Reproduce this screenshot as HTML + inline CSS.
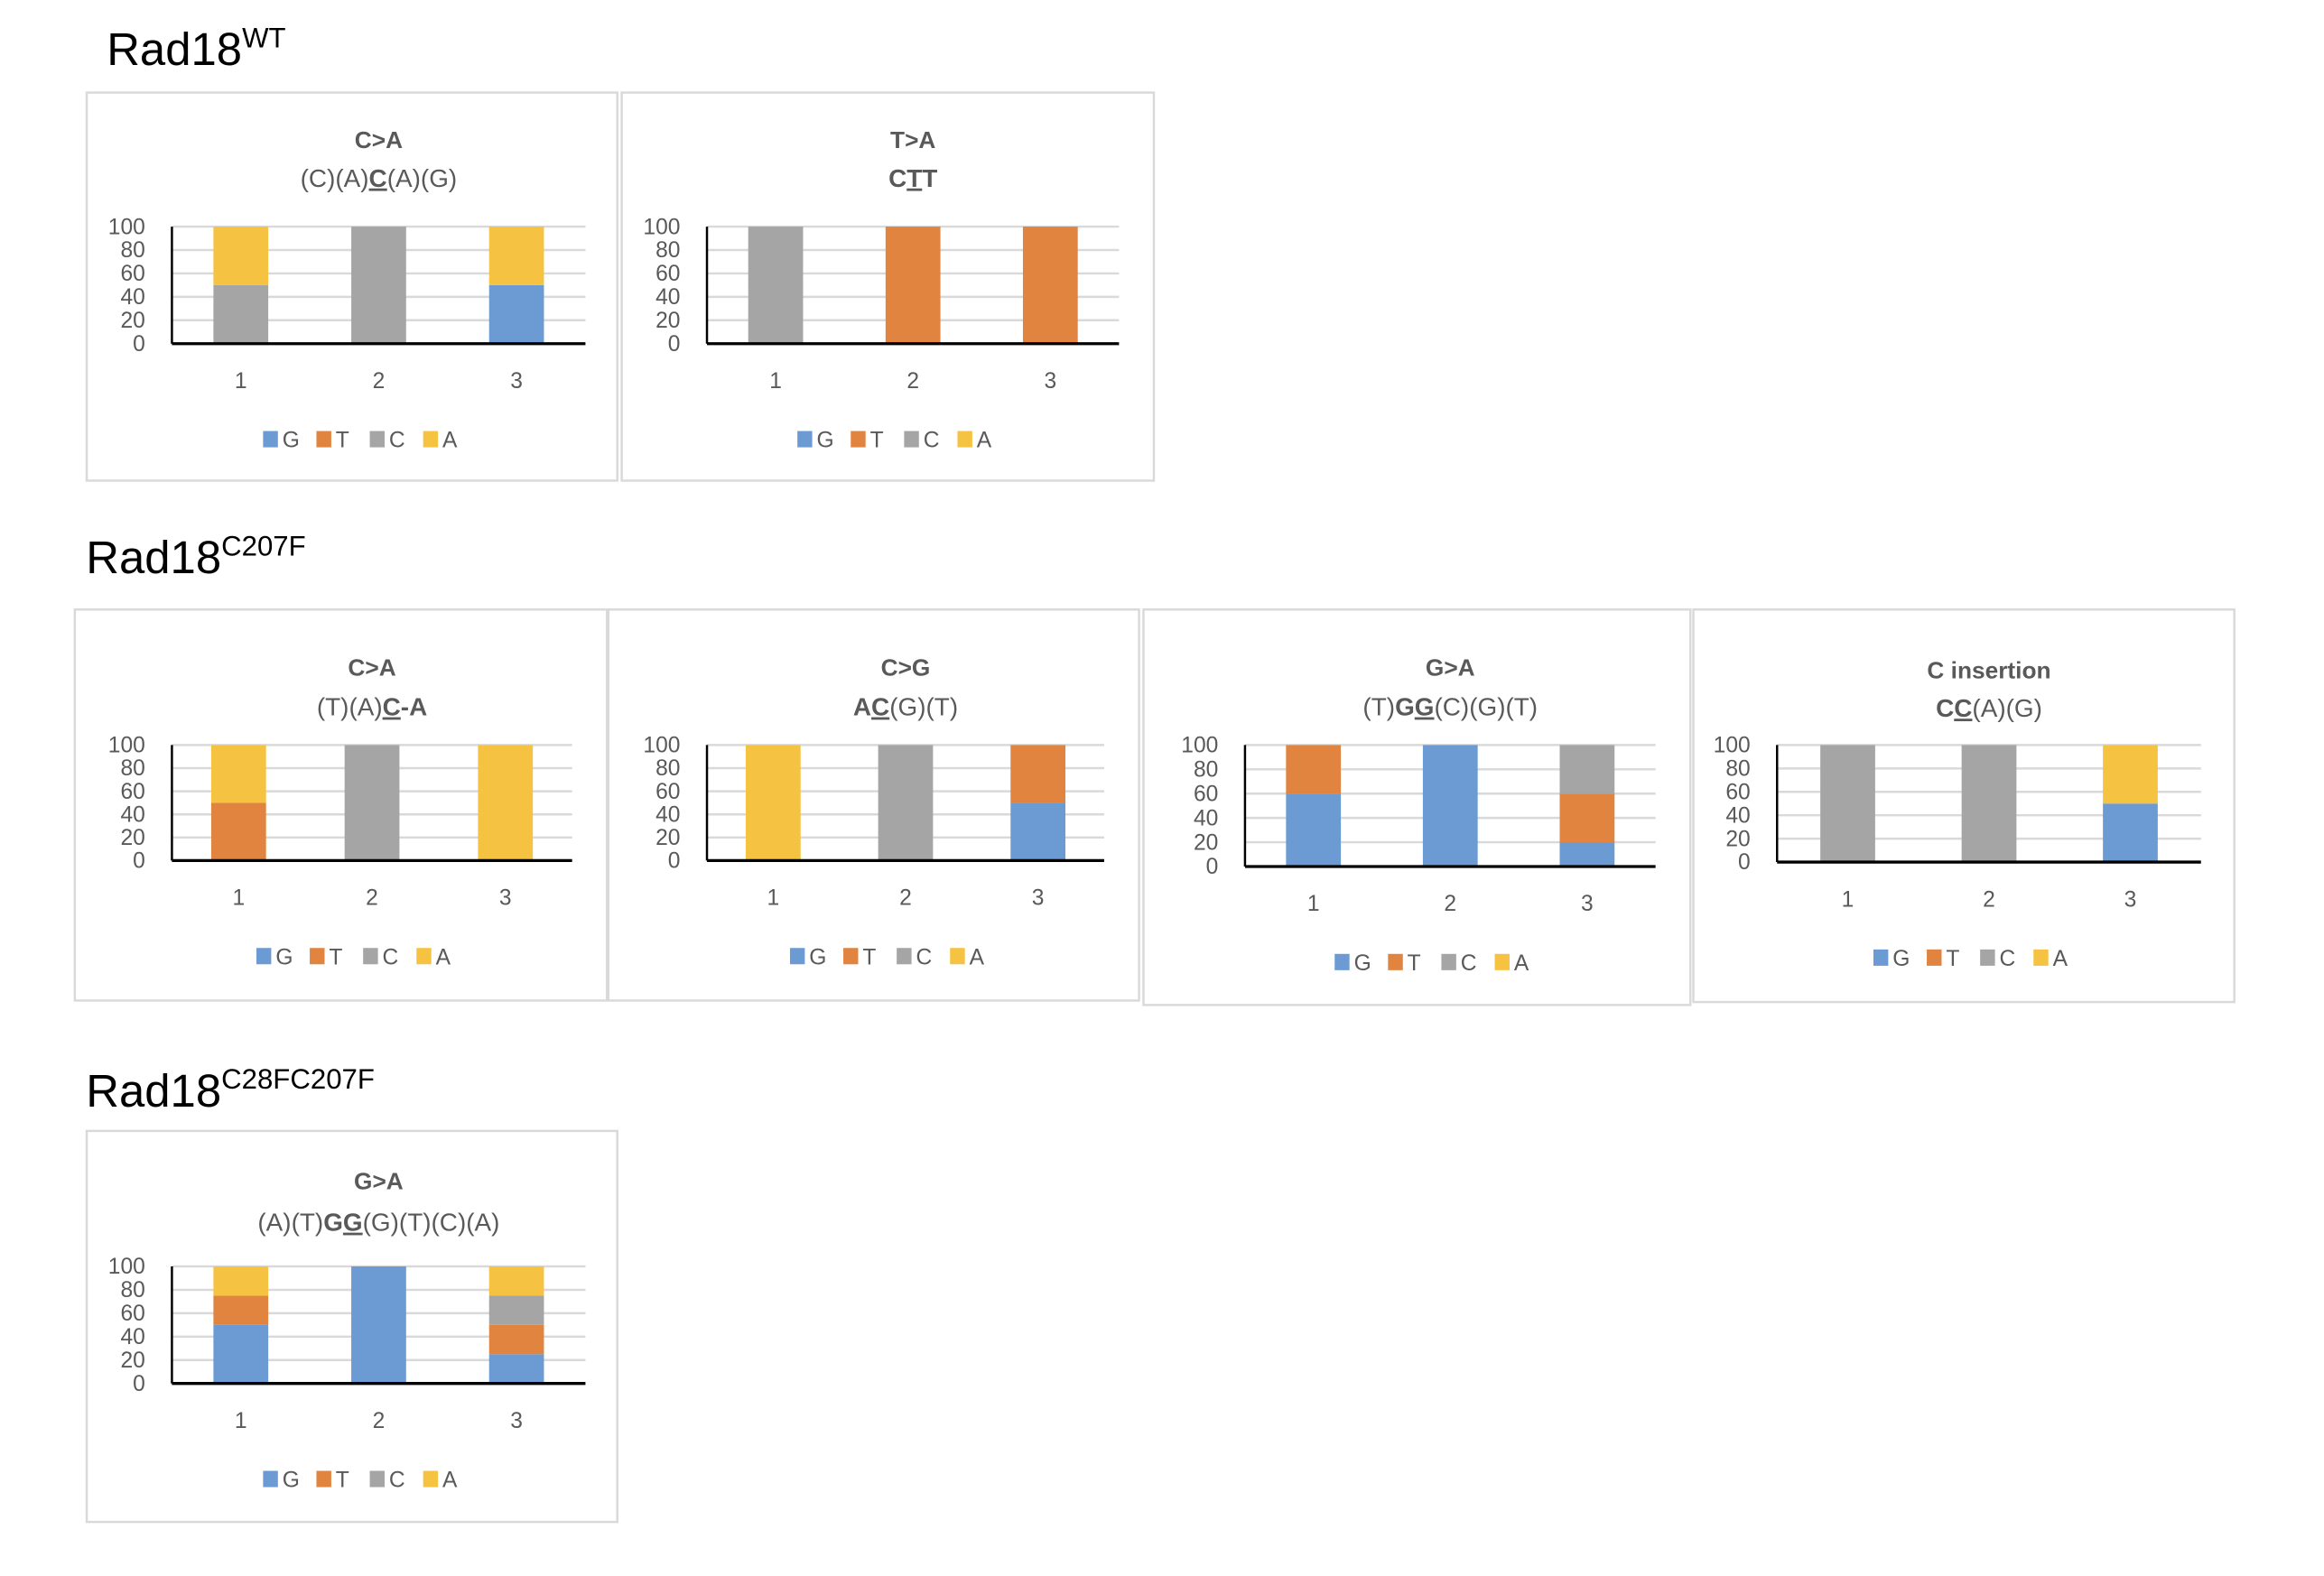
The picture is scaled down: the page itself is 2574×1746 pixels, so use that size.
<!DOCTYPE html>
<html><head><meta charset="utf-8"><style>
html,body{margin:0;padding:0;background:#fff;}
svg{display:block;font-family:"Liberation Sans",sans-serif;}
</style></head><body>
<svg id="fig" width="2574" height="1746" viewBox="0 0 1568 1064" preserveAspectRatio="none" xmlns="http://www.w3.org/2000/svg">
<text x="72" y="44" font-size="31" fill="#000">Rad18<tspan font-size="19" dy="-12">WT</tspan></text>
<text x="58" y="387" font-size="31" fill="#000">Rad18<tspan font-size="19" dy="-12">C207F</tspan></text>
<text x="58" y="747" font-size="31" fill="#000">Rad18<tspan font-size="19" dy="-12">C28FC207F</tspan></text>
</svg>
<script>
const categories = ["1","2","3"];
const seriesNames = ["G","T","C","A"];
const yTicks = [0,20,40,60,80,100];
// values per chart: [G],[T],[C],[A] for categories 1..3
const wtCA_G=[0,0,50], wtCA_T=[0,0,0], wtCA_C=[50,100,0], wtCA_A=[50,0,50];
const wtTA_G=[0,0,0], wtTA_T=[0,100,100], wtTA_C=[100,0,0], wtTA_A=[0,0,0];
const mCA_G=[0,0,0], mCA_T=[50,0,0], mCA_C=[0,100,0], mCA_A=[50,0,100];
const mCG_G=[0,0,50], mCG_T=[0,0,50], mCG_C=[0,100,0], mCG_A=[100,0,0];
const mGA_G=[60,100,20], mGA_T=[40,0,40], mGA_C=[0,0,40], mGA_A=[0,0,0];
const mCI_G=[0,0,50], mCI_T=[0,0,0], mCI_C=[100,100,0], mCI_A=[0,0,50];
const dGA_G=[50,100,25], dGA_T=[25,0,25], dGA_C=[0,0,25], dGA_A=[25,0,25];

const colors = {G:"#6b9bd2",T:"#e0843f",C:"#a5a5a5",A:"#f5c242"};
const NS="http://www.w3.org/2000/svg";
const svg=document.getElementById('fig');
function mk(tag,attrs,parent){const e=document.createElementNS(NS,tag);for(const k in attrs)e.setAttribute(k,attrs[k]);(parent||svg).appendChild(e);return e;}

const charts=[
 {name:"wt-c-to-a",box:[58,62,358,262],ax:116,top:153,bot:232,right:395,title:"C>A",titleY:94,subY:120,sub:[["(C)(A)",0,0],["C",1,1],["(A)(G)",0,0]],data:[wtCA_G,wtCA_T,wtCA_C,wtCA_A]},
 {name:"wt-t-to-a",box:[419,62,359,262],ax:477,top:153,bot:232,right:755,title:"T>A",titleY:94,subY:120,sub:[["C",1,0],["T",1,1],["T",1,0]],data:[wtTA_G,wtTA_T,wtTA_C,wtTA_A]},
 {name:"c207f-c-to-a",box:[50,411,359,264],ax:116,top:503,bot:581,right:386,title:"C>A",titleY:450,subY:477,sub:[["(T)(A)",0,0],["C",1,1],["-A",1,0]],data:[mCA_G,mCA_T,mCA_C,mCA_A]},
 {name:"c207f-c-to-g",box:[410,411,358,264],ax:477,top:503,bot:581,right:745,title:"C>G",titleY:450,subY:477,sub:[["A",1,0],["C",1,1],["(G)(T)",0,0]],data:[mCG_G,mCG_T,mCG_C,mCG_A]},
 {name:"c207f-g-to-a",box:[771,411,369,267],ax:840,top:503,bot:585,right:1117,title:"G>A",titleY:450,subY:477,sub:[["(T)",0,0],["G",1,0],["G",1,1],["(C)(G)(T)",0,0]],data:[mGA_G,mGA_T,mGA_C,mGA_A]},
 {name:"c207f-c-insertion",box:[1142,411,365,265],ax:1199,top:503,bot:582,right:1485,title:"C insertion",titleY:452,subY:478,sub:[["C",1,0],["C",1,1],["(A)(G)",0,0]],data:[mCI_G,mCI_T,mCI_C,mCI_A]},
 {name:"c28fc207f-g-to-a",box:[58,763,358,264],ax:116,top:855,bot:934,right:395,title:"G>A",titleY:797,subY:825,sub:[["(A)(T)",0,0],["G",1,0],["G",1,1],["(G)(T)(C)(A)",0,0]],data:[dGA_G,dGA_T,dGA_C,dGA_A]}
];

charts.forEach(c=>{
 const g=mk('g',{});
 
 
 const [bx,by,bw,bh]=c.box;
 const frame=mk('rect',{x:bx+0.5,y:by+0.5,width:bw,height:bh,fill:"#fff",stroke:"#d9d9d9","stroke-width":1.5},g);
 
 
 const cx=(c.ax+c.right)/2;
 const t=mk('text',{x:cx,y:c.titleY+6,"text-anchor":"middle","font-size":16,"font-weight":"bold",fill:"#595959"},g);
 t.textContent=c.title;
 
 
 const s=mk('text',{x:cx,y:c.subY+6,"text-anchor":"middle","font-size":17,fill:"#595959"},g);
 
 
 c.sub.forEach(p=>{const ts=mk('tspan',{},s);ts.textContent=p[0];if(p[1])ts.setAttribute('font-weight','bold');if(p[2])ts.setAttribute('text-decoration','underline');});
 const yS=v=>c.bot-(v/100)*(c.bot-c.top);
 yTicks.forEach(v=>{
  if(v>0){const gl=mk('line',{x1:c.ax,x2:c.right,y1:yS(v),y2:yS(v),stroke:"#d9d9d9","stroke-width":1.5},g);
   }
  const tl=mk('text',{x:c.ax-18,y:yS(v)+5,"text-anchor":"end","font-size":15,fill:"#595959"},g);
  tl.textContent=v;
  
  
 });
 const step=(c.right-c.ax)/categories.length;
 const bw2=37;
 categories.forEach((cat,i)=>{
  const xc=c.ax+step*(i+0.5);
  let acc=0;
  seriesNames.forEach((sn,si)=>{
   const v=c.data[si][i];
   if(v>0){const r=mk('rect',{x:xc-bw2/2,y:yS(acc+v),width:bw2,height:yS(acc)-yS(acc+v),fill:colors[sn]},g);
    
    }
   acc+=v;
  });
  const xl=mk('text',{x:xc,y:c.bot+30,"text-anchor":"middle","font-size":15,fill:"#595959"},g);
  xl.textContent=cat;
  
  
 });
 const ya=mk('line',{x1:c.ax,x2:c.ax,y1:c.top,y2:c.bot,stroke:"#000","stroke-width":1.5},g);
 
 const xa=mk('line',{x1:c.ax,x2:c.right,y1:c.bot,y2:c.bot,stroke:"#000","stroke-width":2},g);
 
 const ly=c.bot+70;
 let lx=cx-78;
 seriesNames.forEach(sn=>{
  const lg=mk('g',{},g);
  
  
  mk('rect',{x:lx,y:ly-11,width:10,height:11,fill:colors[sn]},lg);
  const lt=mk('text',{x:lx+13,y:ly,"font-size":15,fill:"#595959"},lg);
  lt.textContent=sn;
  lx+=36;
 });
});
</script>
</body></html>
